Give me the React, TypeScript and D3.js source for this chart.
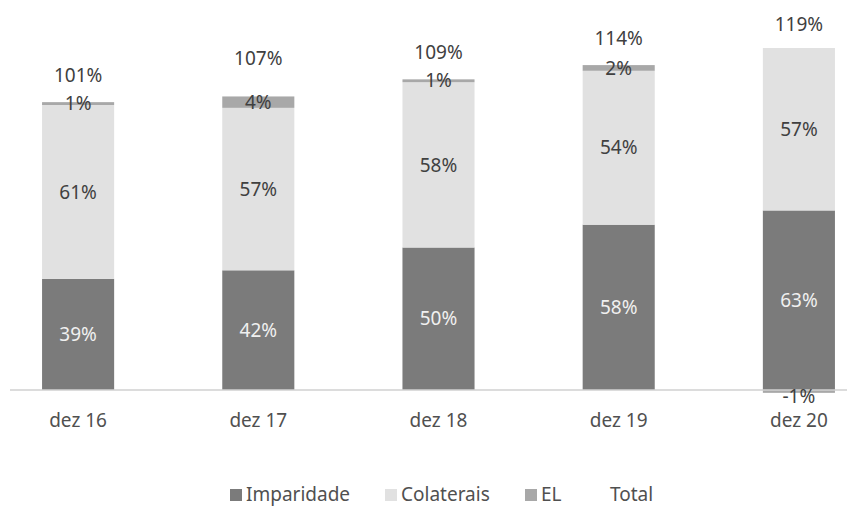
import * as d3 from 'd3';
import { useEffect } from 'react';

const categories = ['dez 16', 'dez 17', 'dez 18', 'dez 19', 'dez 20'];
const imparidade = [39, 42, 50, 58, 63];
const colaterais = [61, 57, 58, 54, 57];
const el = [1, 4, 1, 2, -1];
const total = [101, 107, 109, 114, 119];

const seriesKeys = ['Imparidade', 'Colaterais', 'EL'];
const seriesColors: Record<string, string> = {
  Imparidade: '#7b7b7b',
  Colaterais: '#e1e1e1',
  EL: '#a8a8a8',
};
const labelColors: Record<string, string> = {
  Imparidade: '#f0f0f0',
  Colaterais: '#404040',
  EL: '#404040',
};

const W = 849;
const H = 508;
const FONT = '"Noto Sans", "Open Sans", sans-serif';

export default function App() {
  useEffect(() => {
    document.body.style.margin = '0';
  }, []);

  const rows = categories.map((c, i) => ({
    cat: c,
    Imparidade: imparidade[i],
    Colaterais: colaterais[i],
    EL: el[i],
  }));

  const stacked = d3
    .stack<any>()
    .keys(seriesKeys)
    .offset(d3.stackOffsetDiverging)(rows);

  const x = d3
    .scaleBand<string>()
    .domain(categories)
    .range([-12, 889])
    .paddingInner(0.6)
    .paddingOuter(0.3);

  const y = d3.scaleLinear().domain([0, 120]).range([390, 48]);

  const legend = [
    { label: 'Imparidade', color: seriesColors.Imparidade, x: 230 },
    { label: 'Colaterais', color: seriesColors.Colaterais, x: 385 },
    { label: 'EL', color: seriesColors.EL, x: 525 },
    { label: 'Total', color: 'none', x: 594 },
  ];

  return (
    <svg width={W} height={H} style={{ display: 'block', background: '#fff' }} fontFamily={FONT}>
      {/* bars */}
      {stacked.map(s => (
        <g key={s.key} fill={seriesColors[s.key]}>
          {s.map((d, i) => {
            const y0 = y(Math.max(d[0], d[1]));
            const y1 = y(Math.min(d[0], d[1]));
            return (
              <rect
                key={i}
                x={x(categories[i])}
                y={y0}
                width={x.bandwidth()}
                height={Math.max(0, y1 - y0)}
              />
            );
          })}
        </g>
      ))}

      {/* axis line */}
      <line x1={10} x2={847} y1={y(0)} y2={y(0)} stroke="#d0d0d0" strokeWidth={1.5} />

      {/* segment labels */}
      {stacked.map(s => (
        <g key={'l' + s.key} fill={labelColors[s.key]} fontSize={19} textAnchor="middle">
          {s.map((d, i) => {
            const v = (d.data as any)[s.key] as number;
            const cy = y((d[0] + d[1]) / 2) + (v < 0 ? 5 : 0);
            return (
              <text key={i} x={x(categories[i])! + x.bandwidth() / 2} y={cy} dy="0.35em">
                {v}%
              </text>
            );
          })}
        </g>
      ))}

      {/* total labels */}
      <g fill="#404040" fontSize={19} textAnchor="middle">
        {total.map((t, i) => (
          <text key={i} x={x(categories[i])! + x.bandwidth() / 2} y={y(t) - 27} dy="0.35em">
            {t}%
          </text>
        ))}
      </g>

      {/* category labels */}
      <g fill="#505050" fontSize={19} textAnchor="middle">
        {categories.map(c => (
          <text key={c} x={x(c)! + x.bandwidth() / 2} y={427}>
            {c}
          </text>
        ))}
      </g>

      {/* legend */}
      <g fontSize={19} fill="#505050">
        {legend.map(l => (
          <g key={l.label} transform={`translate(${l.x},0)`}>
            {l.color !== 'none' && <rect x={0} y={489} width={12} height={12} fill={l.color} />}
            <text x={16} y={501}>
              {l.label}
            </text>
          </g>
        ))}
      </g>
    </svg>
  );
}
